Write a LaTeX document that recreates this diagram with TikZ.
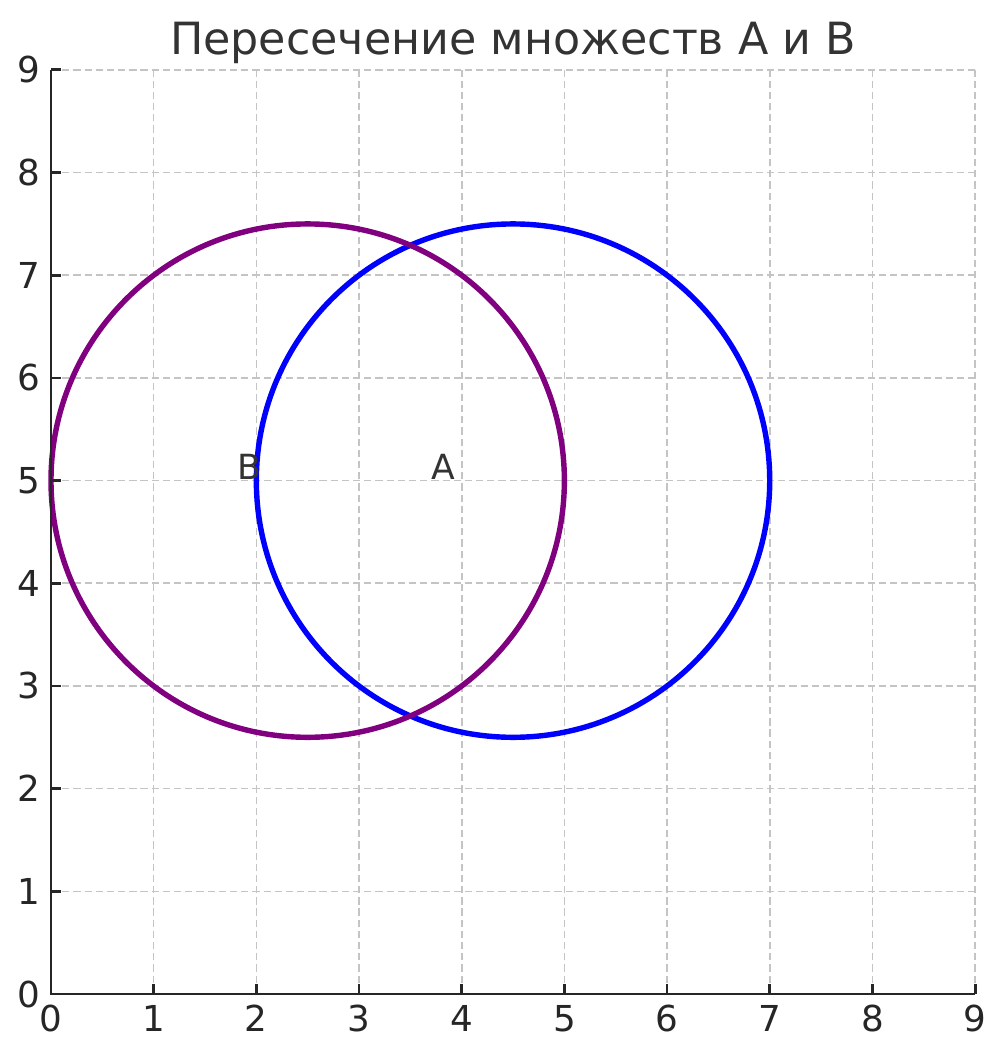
\documentclass[tikz,border=0pt]{standalone}
\usepackage{fontspec}
\setmainfont{DejaVu Sans}
\definecolor{mplpurple}{RGB}{128,0,128}
\definecolor{mplblue}{RGB}{0,0,255}
\definecolor{txt}{HTML}{262626}
\definecolor{ttl}{HTML}{333333}
\definecolor{gridc}{HTML}{C4C4C4}
\tikzset{
  gridline/.style={gridc, line width=0.45pt, dash pattern=on 2pt off 1.1pt},
  spine/.style={txt, line width=0.8pt},
  tickmark/.style={txt, line width=0.8pt},
  ticklabel/.style={txt, font=\fontsize{9.9}{11}\selectfont, inner sep=0pt},
  setcircle/.style={line width=1.5pt},
  setlabel/.style={ttl, font=\fontsize{9.6}{11}\selectfont, inner sep=0pt},
}
\begin{document}
\begin{tikzpicture}
\useasboundingbox (-0.4967,-0.6136) rectangle (9.292,9.681);
% grid
\foreach \i in {1,...,9} {
  \draw[gridline] (\i,0) -- (\i,9);
  \draw[gridline] (0,\i) -- (9,\i);
}
% circles
\draw[setcircle, mplblue] (4.5,5) circle (2.5);
\draw[setcircle, mplpurple] (2.5,5) circle (2.5);
% spines
\draw[spine] (0,9) -- (0,0) -- (9,0);
% ticks and labels
\foreach \i in {0,...,9} {
  \draw[tickmark] (\i,0) -- (\i,0.1);
  \draw[tickmark] (0,\i) -- (0.1,\i);
  \node[ticklabel, anchor=north] (xl\i) at (\i,-0.1) {\i};
  \node[ticklabel, anchor=east] (yl\i) at (-0.1,\i) {\i};
}
% set labels
\node[setlabel, anchor=base west] (labB) at (1.81,5.01) {B};
\node[setlabel, anchor=base west] (labA) at (3.70,5.01) {A};
% title
\node[ttl, font=\fontsize{12.3}{14}\selectfont, inner sep=0pt, anchor=base] (title) at (4.5,9.146) {Пересечение множеств A и B};
\end{tikzpicture}
\end{document}
